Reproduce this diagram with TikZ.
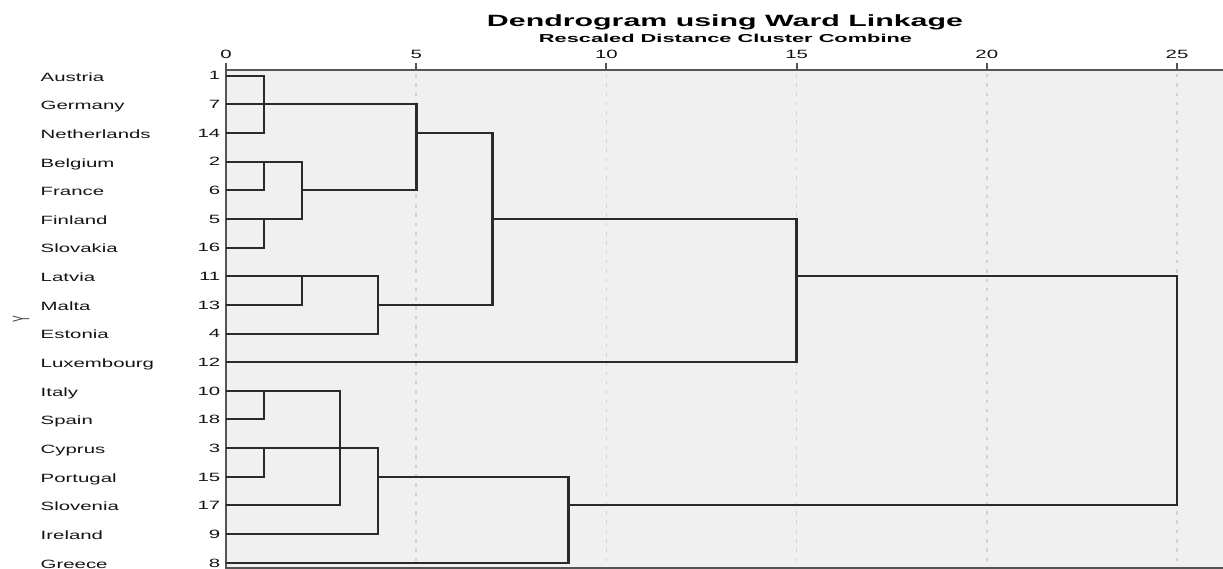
\documentclass[tikz,border=0pt]{standalone}
\usepackage{fontspec}
\setmainfont{Liberation Sans}
\usepackage{graphicx}
\definecolor{plotbg}{HTML}{F0F0F0}
\definecolor{branch}{HTML}{2A2A2A}
\definecolor{axisc}{HTML}{555555}
\definecolor{gridc}{HTML}{D2D2D2}
\newcommand{\sx}[1]{\scalebox{1.7}[1]{#1}}
\tikzset{
  lab/.style={inner sep=0pt, font=\fontsize{12}{14}\selectfont, text=black!92},
  hline/.style={draw=branch, line width=1.8pt},
  vline/.style={draw=branch, line width=2.6pt, line cap=rect},
  gridline/.style={draw=gridc, line width=1.6pt, dash pattern=on 3.5pt off 5.8pt},
  axisline/.style={draw=axisc, line width=1.6pt},
  tickline/.style={draw=branch!80, line width=2pt}
}
\begin{document}
\begin{tikzpicture}[x=1pt,y=-1pt]
\useasboundingbox (0,0) rectangle (1223,569);
% plot area
\fill[plotbg] (226,70) rectangle (1223,567.7);
\foreach \v in {5,10,15,20,25}
  \draw[gridline] ({226+38.04*\v},74) -- ({226+38.04*\v},567);
\draw[axisline] (226,70) -- (1223,70);
\draw[axisline, line width=1.8pt] (226,567.7) -- (1223,567.7);
\draw[draw=axisc, line width=2.6pt] (226,63) -- (226,568.5);
\foreach \v in {0,5,10,15,20,25} {
  \draw[tickline] ({226+38.04*\v},63) -- ({226+38.04*\v},70);
  \node[lab, anchor=base] (t\v) at ({226+38.04*\v},59) {\sx{\v}};
}
% titles
\node[inner sep=0pt, anchor=base] (title) at (725,26.7)
  {\resizebox{476pt}{\height}{\fontsize{16.3}{18}\selectfont\bfseries Dendrogram using Ward Linkage}};
\node[inner sep=0pt, anchor=base] (subtitle) at (725.5,43)
  {\resizebox{373pt}{\height}{\fontsize{11.5}{13}\selectfont\bfseries Rescaled Distance Cluster Combine}};
\node[inner sep=0pt, rotate=90, font=\fontsize{10}{11}\selectfont, text=black!75] (ylab) at (21,319.5) {\scalebox{1}[2.4]{Y}};
% leaves
\foreach \name/\num [count=\i from 0] in {Austria/1, Germany/7, Netherlands/14, Belgium/2, France/6, Finland/5, Slovakia/16, Latvia/11, Malta/13, Estonia/4, Luxembourg/12, Italy/10, Spain/18, Cyprus/3, Portugal/15, Slovenia/17, Ireland/9, Greece/8} {
  \coordinate (l\i) at (226,{round(75.7+28.65*\i)});
  \node[lab, anchor=base west] (n\i) at (40.5,{75.7+28.65*\i+5.4}) {\sx{\name}};
  \node[lab, anchor=base east] (k\i) at (220.5,{75.7+28.65*\i+4.3}) {\sx{\num}};
}
% merge columns
\foreach \v in {1,2,3,4,5,7,9,15,25}
  \coordinate (c\v) at ({226+38.04*\v},70);
% leaf branches
\foreach \i/\v in {0/1,1/5,2/1,3/2,4/1,5/2,6/1,7/4,8/2,9/4,10/15,11/3,12/1,13/4,14/1,15/3,16/4,17/9}
  \draw[hline] (l\i) -- (l\i -| c\v);
% cluster outputs
\foreach \i/\a/\b in {2/5/7, 4/2/5, 8/4/7, 5/7/15, 7/15/25, 14/4/9, 15/9/25}
  \draw[hline] (l\i -| c\a) -- (l\i -| c\b);
% verticals
\foreach \v/\a/\b in {1/0/2,1/3/4,1/5/6,1/11/12,1/13/14,2/3/5,2/7/8,3/11/15,4/7/9,4/13/16,5/1/4,7/2/8,9/14/17,15/5/10,25/7/15}
  \draw[vline] (l\a -| c\v) -- (l\b -| c\v);
\end{tikzpicture}
\end{document}
